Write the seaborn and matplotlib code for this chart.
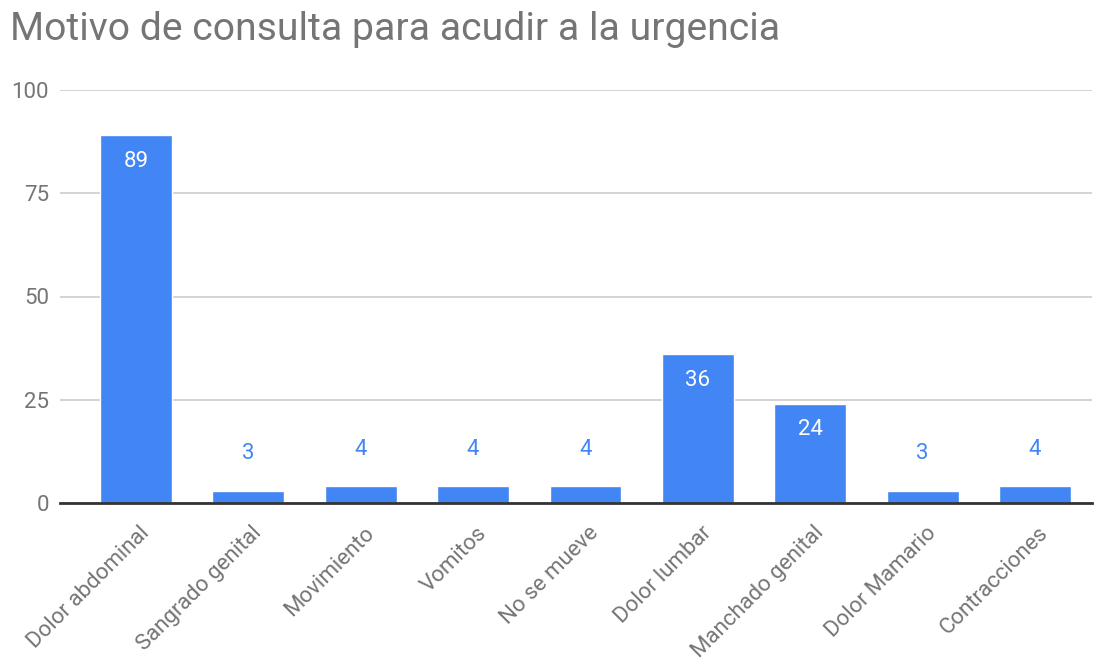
import matplotlib
matplotlib.use("Agg")
import matplotlib.pyplot as plt
import matplotlib.transforms as mtransforms
import seaborn as sns
import pandas as pd

categories = ["Dolor abdominal", "Sangrado genital", "Movimiento", "Vomitos",
              "No se mueve", "Dolor lumbar", "Manchado genital", "Dolor Mamario",
              "Contracciones"]
values = [89, 3, 4, 4, 4, 36, 24, 3, 4]
yticks = [0, 25, 50, 75, 100]
title = "Motivo de consulta para acudir a la urgencia"

BLUE = "#4285F4"
GRAY = "#757575"

sns.set_theme(style="white")
plt.rcParams['font.family'] = ['Roboto', 'DejaVu Sans']

df = pd.DataFrame({"cat": categories, "val": values})

fig = plt.figure(figsize=(11.07, 6.62), dpi=100)
ax = fig.add_axes([60/1107, 1 - 503/662, (1092-60)/1107, (503-90)/662])

sns.barplot(data=df, x="cat", y="val", color=BLUE, saturation=1, width=0.64, ax=ax, zorder=3)

ax.set_ylim(0, 100)
ax.set_xlim(-0.676, 8.507)
ax.set_yticks(yticks)
ax.set_yticklabels([str(t) for t in yticks], fontsize=16, color=GRAY)
ax.yaxis.grid(True, color="#cccccc", linewidth=1.2, zorder=0)
ax.set_axisbelow(True)
for s in ["top", "right", "left"]:
    ax.spines[s].set_visible(False)
ax.spines["bottom"].set_color("#333333")
ax.spines["bottom"].set_linewidth(2)
ax.spines["bottom"].set_zorder(5)
ax.tick_params(axis="both", length=0, pad=8)
ax.set_xlabel("")
ax.set_ylabel("")
ax.set_xticks(range(len(categories)))
ax.set_xticklabels(categories, rotation=45, ha="right", rotation_mode="anchor",
                   fontsize=16, color=GRAY)
ax.tick_params(axis="x", pad=14)
offset = mtransforms.ScaledTranslation(3/100, 0/100, fig.dpi_scale_trans)
for lbl in ax.get_xticklabels():
    lbl.set_transform(lbl.get_transform() + offset)

for i, v in enumerate(values):
    if v >= 15:
        ax.annotate(str(v), (i, v), xytext=(0, -26), textcoords="offset pixels",
                    ha="center", va="center", color="white", fontsize=16)
    else:
        ax.annotate(str(v), (i, v), xytext=(0, 37), textcoords="offset pixels",
                    ha="center", va="center", color=BLUE, fontsize=16)

fig.text(10/1107, 1 - 30/662, title, fontsize=28.2, color=GRAY, ha="left", va="center")

fig.savefig("out.png", dpi=100, facecolor="white")
